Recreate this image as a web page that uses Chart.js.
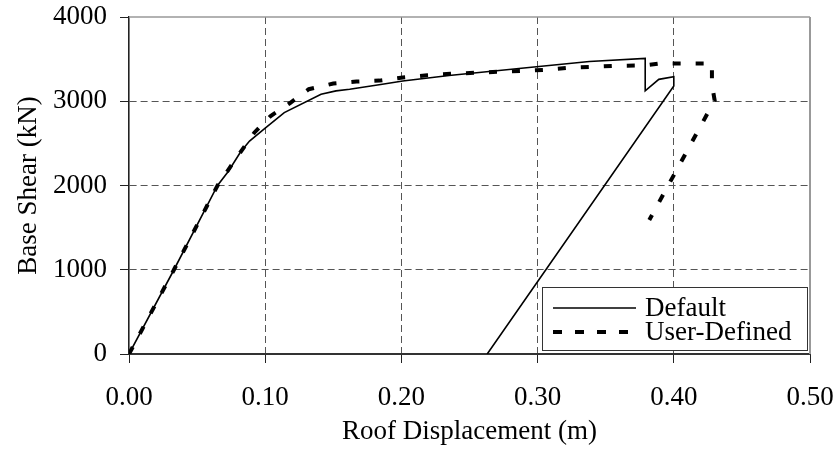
<!DOCTYPE html>
<html>
<head>
<meta charset="utf-8">
<script src="https://cdn.jsdelivr.net/npm/chart.js@4/dist/chart.umd.min.js"></script>
<style>
  body { margin: 0; background: #fff; }
</style>
</head>
<body>
<canvas id="chart1" width="839" height="452"></canvas>
<script>
// data (roof displacement in m, base shear in kN)
var defaultX = [0, 0.033, 0.065, 0.073, 0.082, 0.0885, 0.100, 0.114, 0.141, 0.152, 0.162, 0.186, 0.201, 0.235, 0.301, 0.338, 0.379, 0.379, 0.389, 0.400, 0.400, 0.263];
var defaultY = [0, 1000, 2000, 2170, 2400, 2527, 2680, 2865, 3083, 3123, 3143, 3202, 3240, 3305, 3413, 3472, 3508, 3123, 3260, 3290, 3182, 0];

var userX = [0, 0.033, 0.065, 0.082, 0.092, 0.104, 0.118, 0.132, 0.150, 0.167, 0.184, 0.201, 0.219, 0.236, 0.305, 0.322, 0.340, 0.357, 0.378, 0.389, 0.428, 0.428, 0.430, 0.382];
var userY = [0, 1000, 2000, 2400, 2627, 2825, 2976, 3143, 3210, 3234, 3245, 3282, 3309, 3325, 3373, 3397, 3409, 3421, 3425, 3448, 3448, 3200, 3010, 1590];

var xTicks = [0, 0.1, 0.2, 0.3, 0.4, 0.5];
var yTicks = [0, 1000, 2000, 3000, 4000];

var seriesNames = ["Default", "User-Defined"];

function toPoints(xs, ys) {
  return xs.map(function (x, i) { return { x: x, y: ys[i] }; });
}

var FONT = "'Liberation Serif', 'Times New Roman', serif";

function noPad(scale) {
  scale.paddingTop = 0;
  scale.paddingBottom = 0;
  scale.paddingLeft = 0;
  scale.paddingRight = 0;
}

// gray frame on top and right of plot
var framePlugin = {
  id: "frame",
  beforeDatasetsDraw: function (chart) {
    var a = chart.chartArea, ctx = chart.ctx;
    ctx.save();
    ctx.strokeStyle = "#999";
    ctx.lineWidth = 1.5;
    ctx.beginPath();
    ctx.moveTo(a.left, a.top);
    ctx.lineTo(a.right, a.top);
    ctx.stroke();
    ctx.lineWidth = 2;
    ctx.beginPath();
    ctx.moveTo(a.right, a.top);
    ctx.lineTo(a.right, a.bottom);
    ctx.stroke();
    ctx.restore();
  }
};

// boxed legend in lower right of plot
var boxLegend = {
  id: "boxLegend",
  afterDatasetsDraw: function (chart) {
    var ctx = chart.ctx;
    var x0 = 542, y0 = 287, w = 265, h = 63;
    ctx.save();
    ctx.fillStyle = "#fff";
    ctx.fillRect(x0, y0, w, h);
    ctx.strokeStyle = "#333";
    ctx.lineWidth = 1;
    ctx.strokeRect(x0 + 0.5, y0 + 0.5, w, h);
    var rows = [308, 332];
    chart.data.datasets.forEach(function (ds, i) {
      ctx.strokeStyle = "#000";
      ctx.lineWidth = ds.borderWidth;
      ctx.setLineDash(i === 0 ? [] : [9, 13]);
      ctx.beginPath();
      ctx.moveTo(553, rows[i]);
      ctx.lineTo(636, rows[i]);
      ctx.stroke();
      ctx.setLineDash([]);
      ctx.fillStyle = "#000";
      ctx.font = "27px " + FONT;
      ctx.textBaseline = "middle";
      ctx.fillText(ds.label, 645, rows[i] + 1);
    });
    ctx.restore();
  }
};

var ctx = document.getElementById("chart1").getContext("2d");
var myChart = new Chart(ctx, {
  type: "line",
  data: {
    datasets: [
      {
        label: seriesNames[0],
        data: toPoints(defaultX, defaultY),
        borderColor: "#000",
        borderWidth: 1.6,
        pointRadius: 0,
        tension: 0,
        fill: false,
      },
      {
        label: seriesNames[1],
        data: toPoints(userX, userY),
        borderColor: "#000",
        borderWidth: 4,
        borderDash: [8, 15],
        borderCapStyle: "butt",
        pointRadius: 0,
        tension: 0,
        fill: false,
      },
    ],
  },
  options: {
    responsive: false,
    animation: false,
    layout: { padding: { top: 17, right: 29, left: 0, bottom: 0 } },
    plugins: {
      legend: { display: false },
      tooltip: { enabled: false },
    },
    scales: {
      x: {
        type: "linear",
        min: xTicks[0],
        max: xTicks[xTicks.length - 1],
        afterBuildTicks: function (scale) {
          scale.ticks = xTicks.map(function (v) { return { value: v }; });
        },
        afterFit: function (scale) { scale.height = 98; noPad(scale); },
        ticks: {
          color: "#000",
          font: { family: FONT, size: 27 },
          padding: 19,
          maxRotation: 0,
          callback: function (v) { return v.toFixed(2); },
        },
        grid: {
          color: function (c) {
            var v = c.tick ? c.tick.value : 0;
            return v === 0 || v === 0.5 ? "rgba(0,0,0,0)" : "#555";
          },
          tickColor: "#222",
          tickLength: 9,
          tickBorderDash: [],
        },
        border: { display: true, color: "#333", width: 2, dash: [7, 4] },
        title: {
          display: true,
          text: "Roof Displacement (m)",
          color: "#000",
          font: { family: FONT, size: 27 },
          padding: { top: 0, bottom: 4 },
        },
      },
      y: {
        min: yTicks[0],
        max: yTicks[yTicks.length - 1],
        afterBuildTicks: function (scale) {
          scale.ticks = yTicks.map(function (v) { return { value: v }; });
        },
        afterFit: function (scale) { scale.width = 129; noPad(scale); },
        ticks: {
          color: "#000",
          font: { family: FONT, size: 27 },
          padding: 13,
          callback: function (v) { return String(v); },
        },
        grid: {
          color: function (c) {
            var v = c.tick ? c.tick.value : 0;
            return v === 0 || v === 4000 ? "rgba(0,0,0,0)" : "#555";
          },
          tickColor: "#222",
          tickLength: 9,
          tickBorderDash: [],
        },
        border: { display: true, color: "#222", width: 1.6, dash: [7, 4] },
        title: {
          display: true,
          text: "Base Shear (kN)",
          color: "#000",
          font: { family: FONT, size: 27 },
          padding: { top: 13, bottom: 0 },
        },
      },
    },
  },
  plugins: [framePlugin, boxLegend],
});
</script>
</body>
</html>
